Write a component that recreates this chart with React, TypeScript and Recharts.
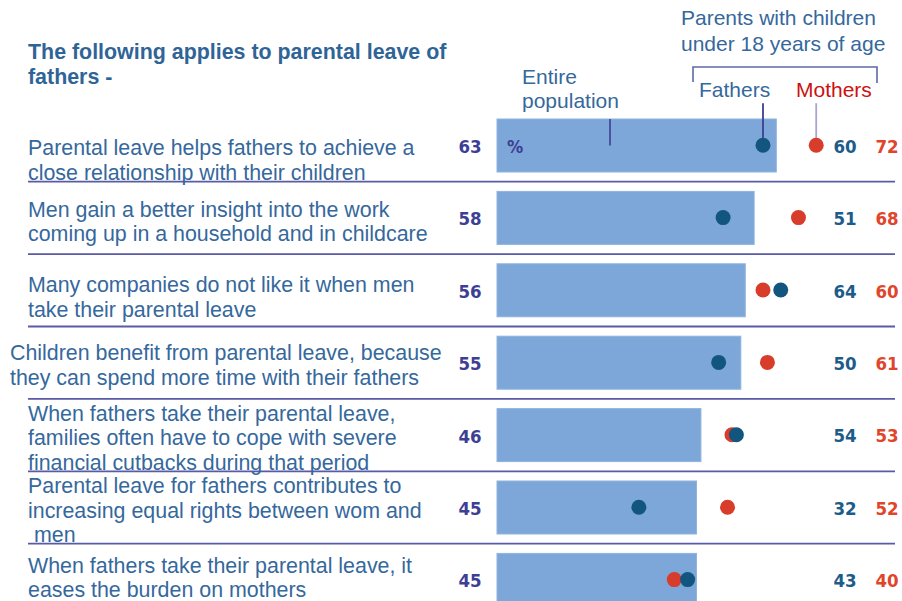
import React from 'react';
import { ComposedChart, Bar, Line, XAxis, YAxis, LabelList } from 'recharts';

// survey statements (one entry per row, split into the lines they are printed on)
const statements = [
  ['Parental leave helps fathers to achieve a', 'close relationship with their children'],
  ['Men gain a better insight into the work', 'coming up in a household and in childcare'],
  ['Many companies do not like it when men', 'take their parental leave'],
  ['Children benefit from parental leave, because', 'they can spend more time with their fathers'],
  ['When fathers take their parental leave,', 'families often have to cope with severe', 'financial cutbacks during that period'],
  ['Parental leave for fathers contributes to', 'increasing equal rights between wom and', ' men'],
  ['When fathers take their parental leave, it', 'eases the burden on mothers'],
];
const entirePopulation = [63, 58, 56, 55, 46, 45, 45];
const fathers = [60, 51, 64, 50, 54, 32, 43];
const mothers = [72, 68, 60, 61, 53, 52, 40];

// layout
const ROW_H = 72.4;
const TOP = 109;
const PLOT_LEFT = 497;
const CHART_H = 640;
const LABEL_X = [28, 28, 28, 10, 28, 28, 28];
const LABEL_DY = [10, -1, 2, -2, -14, -14, -7];
const LINE_GAP = 24.5;
const FATHERS_COL = 845;
const MOTHERS_COL = 887;

const SANS = '"Liberation Sans", Arial, sans-serif';
const NUM = '"DejaVu Sans Condensed", "DejaVu Sans", sans-serif';
const TEXT_BLUE = '#35689c';
const NAVY = '#3d3f94';
const BAR_BLUE = '#7ca7d8';
const FATHER_DOT = '#12567f';
const MOTHER_DOT = '#d83c2a';
const RULE = '#5a5aa6';

const StatementTick = (props: any) => {
  const { y, index, payload } = props;
  const lines = String(payload.value).split('\n');
  return (
    <text x={LABEL_X[index]} y={y + LABEL_DY[index]} fill={TEXT_BLUE} fontFamily={SANS} fontSize={21.4} style={{ whiteSpace: 'pre' }}>
      {lines.map((l, i) => (
        <tspan key={i} x={LABEL_X[index]} dy={i === 0 ? 0 : LINE_GAP}>{l}</tspan>
      ))}
    </text>
  );
};

const BarWithRule = (props: any) => {
  const { x, y, width, height, index } = props;
  const ruleY = y + height / 2 + ROW_H / 2;
  return (
    <g>
      <rect x={x} y={y} width={width} height={height} fill={BAR_BLUE} stroke="#8fb4de" strokeWidth={1} />
      {index < statements.length - 1 && (
        <line x1={28} x2={895} y1={ruleY} y2={ruleY} stroke={RULE} strokeWidth={1.8} />
      )}
      {index === 0 && (
        <g>
          <line x1={x + 113} x2={x + 113} y1={y} y2={y + height / 2} stroke={NAVY} strokeWidth={1.6} />
          <text x={x + 18} y={y + height / 2 + 1} fill={NAVY} fontFamily={NUM} fontSize={18} fontWeight={700} textAnchor="middle" dominantBaseline="central">%</text>
        </g>
      )}
    </g>
  );
};

const TotalLabel = (props: any) => {
  const { x, y, height, value } = props;
  return (
    <text x={x - 27} y={y + height / 2 + 1} fill={NAVY} fontFamily={NUM} fontSize={18.5} fontWeight={700} textAnchor="middle" dominantBaseline="central">
      {value}
    </text>
  );
};

const makeDot = (color: string, leader: string) => (props: any) => {
  const { cx, cy, index } = props;
  return (
    <g key={`d-${color}-${index}`}>
      {index === 0 && <line x1={cx} x2={cx} y1={cy - 42} y2={cy} stroke={leader} strokeWidth={1.8} />}
      <circle cx={cx} cy={cy} r={7.5} fill={color} />
    </g>
  );
};

const makeColLabel = (colX: number, color: string) => (props: any) => {
  const { y, value } = props;
  return (
    <text x={colX} y={y + 1} fill={color} fontFamily={NUM} fontSize={18.5} fontWeight={700} textAnchor="middle" dominantBaseline="central">
      {value}
    </text>
  );
};

export default function App() {
  const data = statements.map((lines, i) => ({
    name: lines.join('\n'),
    total: entirePopulation[i],
    fathers: fathers[i],
    mothers: mothers[i],
  }));

  return (
    <div style={{ position: 'fixed', left: 0, top: 0, width: 902, height: 601, overflow: 'hidden', background: '#fff' }}>
      <ComposedChart
        layout="vertical"
        width={902}
        height={CHART_H}
        data={data}
        margin={{ top: TOP, right: 6, bottom: CHART_H - TOP - ROW_H * statements.length, left: 0 }}
      >
        <XAxis type="number" domain={[0, 90]} hide />
        <YAxis type="category" dataKey="name" width={PLOT_LEFT} tick={StatementTick} tickLine={false} axisLine={false} interval={0} />
        <Bar dataKey="total" barSize={53} fill={BAR_BLUE} shape={BarWithRule} isAnimationActive={false}>
          <LabelList dataKey="total" content={TotalLabel} />
        </Bar>
        <Line dataKey="mothers" stroke="none" dot={makeDot(MOTHER_DOT, '#aaa5cf')} activeDot={false} isAnimationActive={false}>
          <LabelList dataKey="mothers" content={makeColLabel(MOTHERS_COL, '#e0452b')} />
        </Line>
        <Line dataKey="fathers" stroke="none" dot={makeDot(FATHER_DOT, NAVY)} activeDot={false} isAnimationActive={false}>
          <LabelList dataKey="fathers" content={makeColLabel(FATHERS_COL, '#1d5c8a')} />
        </Line>
      </ComposedChart>
      <svg width={902} height={601} style={{ position: 'absolute', left: 0, top: 0, pointerEvents: 'none' }}>
        <text fill="#2f6497" fontFamily={SANS} fontSize={21.4} fontWeight={700}>
          <tspan x={28} y={59}>The following applies to parental leave of</tspan>
          <tspan x={28} y={84}>fathers -</tspan>
        </text>
        <text fill={TEXT_BLUE} fontFamily={SANS} fontSize={21}>
          <tspan x={522} y={84}>Entire</tspan>
          <tspan x={522} y={108}>population</tspan>
        </text>
        <text fill={TEXT_BLUE} fontFamily={SANS} fontSize={21}>
          <tspan x={681} y={25}>Parents with children</tspan>
          <tspan x={681} y={51}>under 18 years of age</tspan>
        </text>
        <path d="M693 82 V67 H877 V83" fill="none" stroke="#5b6aa6" strokeWidth={1.6} />
        <text x={699} y={97} fill={TEXT_BLUE} fontFamily={SANS} fontSize={21}>Fathers</text>
        <text x={796} y={97} fill="#cc1111" fontFamily={SANS} fontSize={21}>Mothers</text>
      </svg>
    </div>
  );
}
